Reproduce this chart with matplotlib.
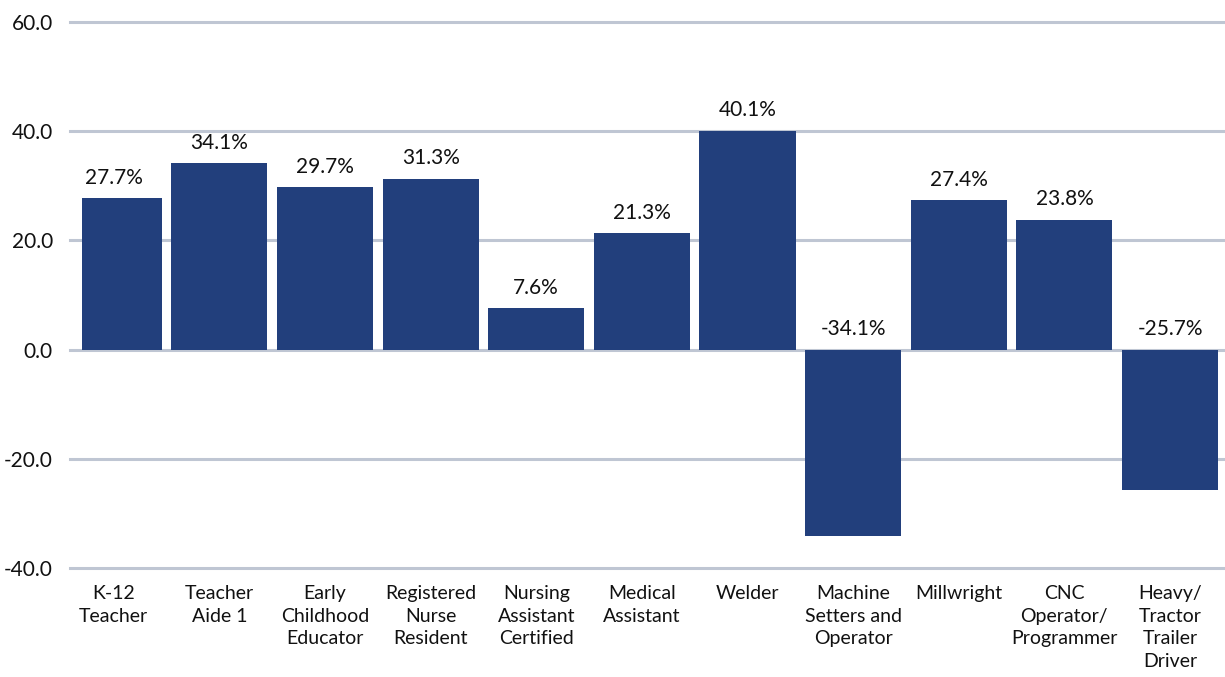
import matplotlib
matplotlib.use("Agg")
import matplotlib.pyplot as plt

categories = ["K-12\nTeacher", "Teacher\nAide 1", "Early\nChildhood\nEducator",
              "Registered\nNurse\nResident", "Nursing\nAssistant\nCertified",
              "Medical\nAssistant", "Welder", "Machine\nSetters and\nOperator",
              "Millwright", "CNC\nOperator/\nProgrammer", "Heavy/\nTractor\nTrailer\nDriver"]
values = [27.7, 34.1, 29.7, 31.3, 7.6, 21.3, 40.1, -34.1, 27.4, 23.8, -25.7]
yticks = [-40, -20, 0, 20, 40, 60]

plt.rcParams['font.family'] = ['Lato', 'DejaVu Sans']

W, H = 1225, 677
left_px = 82
fig = plt.figure(figsize=(W / 100, H / 100), dpi=100)
ax = fig.add_axes([left_px / W, 1 - 568 / H, 1 - left_px / W, (568 - 22) / H])

bar_color = "#223f7c"
grid_color = "#bfc6d3"

x = list(range(len(categories)))
ax.set_ylim(-40, 60)
ax.set_xlim(-0.30, 10.52)
ext = -12 / (W - left_px)
for t in yticks:
    ax.axhline(t, xmin=ext, xmax=1, color=grid_color, linewidth=2.2, zorder=1, clip_on=False)

bars = ax.bar(x, values, width=0.91, color=bar_color, zorder=2)

for xi, v in zip(x, values):
    y = max(v, 0) + 1.9
    ax.text(xi, y, f"{v:.1f}%", ha="center", va="bottom", fontsize=15, color="#111111", zorder=3)

ax.set_yticks(yticks)
ax.set_yticklabels([f"{t:.1f}" for t in yticks], fontsize=15, color="#111111")
ax.set_xticks(x)
ax.set_xticklabels(categories, fontsize=14, color="#111111", linespacing=1.42, va="top")
ax.tick_params(axis="both", length=0)
ax.tick_params(axis="y", pad=21)
ax.tick_params(axis="x", pad=12)
for s in ax.spines.values():
    s.set_visible(False)

fig.savefig("out.png", dpi=100)
